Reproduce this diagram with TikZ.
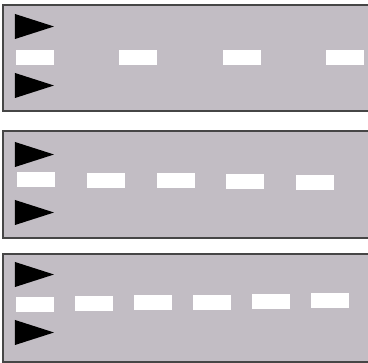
\documentclass[tikz,border=0pt]{standalone}
\usepackage{xcolor}
\definecolor{roadgray}{RGB}{194,189,196}
\definecolor{kerb}{RGB}{70,70,70}

\begin{document}
\begin{tikzpicture}[x=1pt,y=-1pt,
    lane/.style={fill=roadgray,draw=kerb,line width=1.1pt},
    stripe/.style={fill=white},
    flag/.style={fill=black}]
  \useasboundingbox (0,0) rectangle (368,363);
  % lane panels, open on the right
  \draw[lane] (3,5) rectangle (375,111);
  \draw[lane] (3,131) rectangle (375,238);
  \draw[lane] (3,254) rectangle (375,362);
  % direction triangles
  \foreach \yt in {14,73,142,200,262,320}
    \fill[flag] (15,\yt) -- (54,{\yt+12.5}) -- (15,{\yt+25}) -- cycle;
  % wide spacing of the stripes
  \foreach \i in {0,...,3}
    \fill[stripe] ({16+103.3*\i},50.5) rectangle ++(38,15);
  % medium spacing
  \foreach \i in {0,...,4}
    \fill[stripe] ({17+69.8*\i},{172+0.75*\i}) rectangle ++(38,15);
  % narrow spacing
  \foreach \i in {0,...,5}
    \fill[stripe] ({16+59*\i},{297-0.8*\i}) rectangle ++(38,15);
\end{tikzpicture}
\end{document}
